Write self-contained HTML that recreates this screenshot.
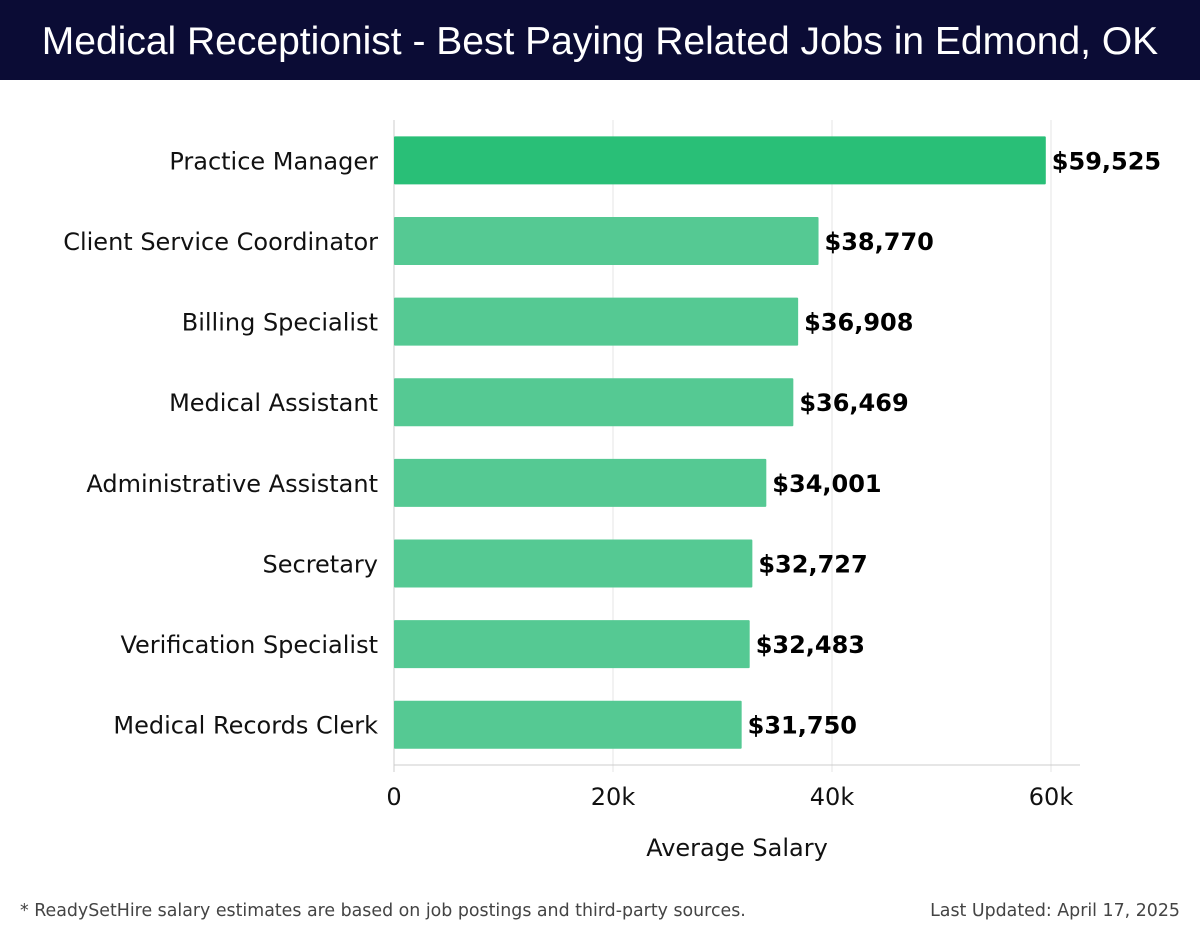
<!DOCTYPE html>
<html><head><meta charset="utf-8"><style>
body{margin:0;background:#fff;font-family:"Liberation Sans","DejaVu Sans",sans-serif;}
#wrap{position:relative;width:1200px;height:940px;overflow:hidden;}
#hdr{position:absolute;left:0;top:0;width:1200px;height:80px;background:#0b0c35;color:#fff;font-size:39px;text-align:center;line-height:84px;}
.foot{position:absolute;top:901px;font-size:17.4px;color:#444;font-family:"DejaVu Sans",sans-serif;}
svg text{font-family:"DejaVu Sans",sans-serif;}
</style></head><body>
<div id="wrap">
<div id="hdr">Medical Receptionist - Best Paying Related Jobs in Edmond, OK</div>
<svg id="chart" width="1200" height="880" style="position:absolute;left:0;top:0"></svg>
<div class="foot" style="left:20px">* ReadySetHire salary estimates are based on job postings and third-party sources.</div>
<div class="foot" style="right:20px">Last Updated: April 17, 2025</div>
</div>
<script>
const categories=["Practice Manager","Client Service Coordinator","Billing Specialist","Medical Assistant","Administrative Assistant","Secretary","Verification Specialist","Medical Records Clerk"];
const salaries=[59525,38770,36908,36469,34001,32727,32483,31750];
const valueLabels=["$59,525","$38,770","$36,908","$36,469","$34,001","$32,727","$32,483","$31,750"];
const ticks=[0,20000,40000,60000];
const tickLabels=["0","20k","40k","60k"];

const NS="http://www.w3.org/2000/svg";
const svg=document.getElementById('chart');
const x0=394,pxPer=219/20000,plotTop=120,plotBottom=765,plotRight=1080;
const band=(plotBottom-plotTop)/categories.length,barH=48;
const xs=v=>x0+v*pxPer;
const yc=i=>plotTop+band*(i+0.5);
function mk(t,a,txt){const e=document.createElementNS(NS,t);for(const k in a)e.setAttribute(k,a[k]);if(txt!==undefined)e.textContent=txt;svg.appendChild(e);return e;}
ticks.forEach((t,i)=>{
 const g=mk('line',{x1:xs(t),x2:xs(t),y1:plotTop,y2:plotBottom+7,stroke:i==0?'#ccc':'#e6e6e6','stroke-width':1});
 
 
 const l=mk('text',{x:xs(t),y:805,'text-anchor':'middle','font-size':24,fill:'#111'},tickLabels[i]);
 
 
});
const ax=mk('line',{x1:x0,x2:plotRight,y1:plotBottom,y2:plotBottom,stroke:'#ccc','stroke-width':1});


categories.forEach((c,i)=>{
 const r=mk('rect',{x:x0,y:yc(i)-barH/2,width:xs(salaries[i])-x0,height:barH,fill:i==0?'#29bf77':'#55c993',rx:1});
 
 
 const cl=mk('text',{x:378,y:yc(i)+9,'text-anchor':'end','font-size':24,fill:'#111'},c);
 
 
 const vl=mk('text',{x:xs(salaries[i])+6,y:yc(i)+9,'font-size':24,'font-weight':'bold',fill:'#000'},valueLabels[i]);
 
 
});
const at=mk('text',{x:737,y:856,'text-anchor':'middle','font-size':24,fill:'#111'},'Average Salary');


</script>
</body></html>
